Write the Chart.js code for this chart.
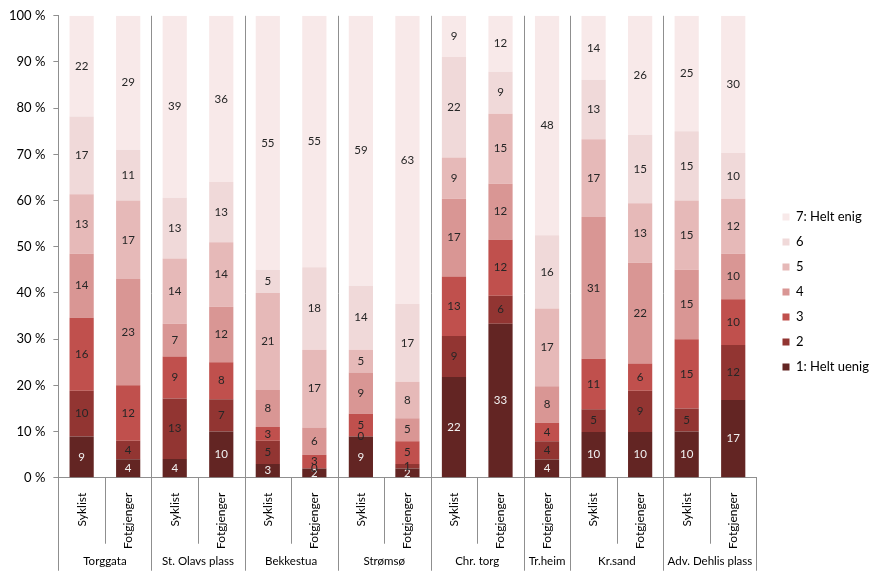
<!DOCTYPE html>
<html>
<head>
<meta charset="utf-8">
<script src="https://cdn.jsdelivr.net/npm/chart.js@4.4.1/dist/chart.umd.min.js"></script>
<style>
    html, body { margin: 0; padding: 0; background: #ffffff; }
    #wrap { width: 883px; height: 576px; }
</style>
</head>
<body>
<div id="wrap"><canvas id="grafico" width="883" height="576"></canvas></div>
<script>
// bars, left to right
const bars = ["Syklist", "Fotgjenger", "Syklist", "Fotgjenger", "Syklist", "Fotgjenger",
    "Syklist", "Fotgjenger", "Syklist", "Fotgjenger", "Fotgjenger",
    "Syklist", "Fotgjenger", "Syklist", "Fotgjenger"];
const groups = ["Torggata", "St. Olavs plass", "Bekkestua", "Strømsø", "Chr. torg", "Tr.heim", "Kr.sand", "Adv. Dehlis plass"];
const groupSizes = [2, 2, 2, 2, 2, 1, 2, 2];

const levels = ["1: Helt uenig", "2", "3", "4", "5", "6", "7: Helt enig"];
const level1 = [9, 4, 4, 10, 3, 2, 9, 2, 22, 33, 4, 10, 10, 10, 17];
const level2 = [10, 4, 13, 7, 5, 0, 0, 1, 9, 6, 4, 5, 9, 5, 12];
const level3 = [16, 12, 9, 8, 3, 3, 5, 5, 13, 12, 4, 11, 6, 15, 10];
const level4 = [14, 23, 7, 12, 8, 6, 9, 5, 17, 12, 8, 31, 22, 15, 10];
const level5 = [13, 17, 14, 14, 21, 17, 5, 8, 9, 15, 17, 17, 13, 15, 12];
const level6 = [17, 11, 13, 13, 5, 18, 14, 17, 22, 9, 16, 13, 15, 15, 10];
const level7 = [22, 29, 39, 36, 55, 55, 59, 63, 9, 12, 48, 14, 26, 25, 30];

const yTicks = [0, 10, 20, 30, 40, 50, 60, 70, 80, 90, 100];

const colors = ["#632523", "#923532", "#c0504d", "#d99694", "#e6b9b8", "#f0d9d9", "#f8e9e9"];
const series = [level1, level2, level3, level4, level5, level6, level7];

const fonte = "Lato, 'Open Sans', sans-serif";
const corLinha = "#8f8f8f";

// totals per bar, for 100 % stacking
const totais = bars.map(function (b, j) {
    return series.reduce(function (s, arr) { return s + arr[j]; }, 0);
});

const datasets = series.map(function (arr, i) {
    return {
        label: levels[i],
        data: arr.map(function (v, j) { return v / totais[j] * 100; }),
        raw: arr,
        backgroundColor: colors[i],
        borderWidth: 0,
        categoryPercentage: 1,
        barPercentage: 0.52
    };
});

const rotulosSegmento = {
    id: "rotulosSegmento",
    afterDatasetsDraw: function (chart) {
        const ctx = chart.ctx;
        ctx.save();
        ctx.font = "11.5px " + fonte;
        ctx.textAlign = "center";
        ctx.textBaseline = "middle";
        chart.data.datasets.forEach(function (ds, i) {
            const meta = chart.getDatasetMeta(i);
            meta.data.forEach(function (bar, j) {
                ctx.fillStyle = i === 0 ? "#f2f2f2" : "#262626";
                ctx.fillText(String(ds.raw[j]), bar.x, (bar.y + bar.base) / 2);
            });
        });
        ctx.restore();
    }
};

const eixoGrupos = {
    id: "eixoGrupos",
    afterDraw: function (chart) {
        const x = chart.scales.x;
        const area = chart.chartArea;
        const ctx = chart.ctx;
        const meio = (x.getPixelForValue(1) - x.getPixelForValue(0)) / 2;
        const fundo = area.bottom;

        ctx.save();
        ctx.strokeStyle = corLinha;
        ctx.lineWidth = 1;

        // boundaries between groups
        const limites = [0];
        groupSizes.forEach(function (n) { limites.push(limites[limites.length - 1] + n); });

        for (let k = 0; k <= bars.length; k++) {
            const px = Math.round(x.getPixelForValue(k) - meio) + 0.5;
            let y0 = fundo;
            let y1 = fundo + 66;
            if (limites.indexOf(k) >= 0) {
                y1 = fundo + 93;
                if (k > 0 && k < bars.length) {
                    y0 = area.top;
                }
            }
            ctx.beginPath();
            ctx.moveTo(px, y0);
            ctx.lineTo(px, y1);
            ctx.stroke();
        }

        ctx.fillStyle = "#000000";
        ctx.font = "11.5px " + fonte;
        ctx.textAlign = "center";
        ctx.textBaseline = "middle";
        groups.forEach(function (g, i) {
            const esq = x.getPixelForValue(limites[i]) - meio;
            const dir = x.getPixelForValue(limites[i + 1] - 1) + meio;
            ctx.fillText(g, (esq + dir) / 2, fundo + 84);
        });
        ctx.restore();
    }
};

const ctx = document.getElementById("grafico");

new Chart(ctx, {
    type: "bar",
    data: {
        labels: bars,
        datasets: datasets
    },
    options: {
        responsive: false,
        animation: false,
        layout: {
            padding: { top: 8, right: 4, left: 1, bottom: 0 }
        },
        plugins: {
            tooltip: { enabled: false },
            legend: {
                position: "right",
                reverse: true,
                labels: {
                    boxWidth: 7,
                    boxHeight: 7,
                    padding: 12,
                    color: "#000000",
                    font: { family: fonte, size: 13 }
                }
            }
        },
        scales: {
            x: {
                stacked: true,
                grid: { display: false },
                border: { color: corLinha },
                ticks: {
                    minRotation: 90,
                    maxRotation: 90,
                    autoSkip: false,
                    padding: 7,
                    color: "#000000",
                    font: { family: fonte, size: 12 }
                },
                afterFit: function (scale) {
                    scale.height += 20;
                }
            },
            y: {
                stacked: true,
                min: 0,
                max: 100,
                afterBuildTicks: function (scale) {
                    scale.ticks = yTicks.map(function (v) { return { value: v }; });
                },
                ticks: {
                    padding: 8,
                    color: "#000000",
                    font: { family: fonte, size: 13 },
                    callback: function (v) { return v + " %"; }
                },
                grid: { drawOnChartArea: false, tickLength: 5, color: corLinha },
                border: { color: corLinha }
            },
            espaco: {
                position: "right",
                display: true,
                grid: { display: false },
                border: { display: false },
                ticks: { display: false },
                afterFit: function (scale) {
                    scale.width = 14;
                }
            }
        }
    },
    plugins: [rotulosSegmento, eixoGrupos]
});
</script>
</body>
</html>
